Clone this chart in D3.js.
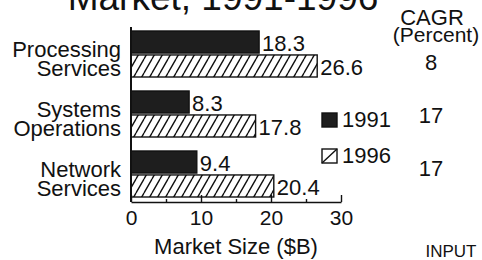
<!DOCTYPE html>
<meta charset="utf-8">
<head>
    <title>Market Size</title>
    <style>
        body { margin: 0; background: #fff; }
        svg text { font-family: "Liberation Sans", Arial, Helvetica, sans-serif; fill: #111; }
    </style>
</head>

<script src="https://d3js.org/d3.v7.min.js"></script>

<div id="dataVis"></div>

<script>

    // data
    var categories = ["Processing Services", "Systems Operations", "Network Services"];
    var years = ["1991", "1996"];
    var values1991 = [18.3, 8.3, 9.4];
    var values1996 = [26.6, 17.8, 20.4];
    var cagr = [8, 17, 17];
    var xTicks = [0, 10, 20, 30];
    var xMinorTicks = [5, 15, 25];

    var width = 482, height = 260;

    var svg = d3.select("#dataVis")
        .append("svg")
        .attr("width", width)
        .attr("height", height);

    // hatch for the 1996 bars
    var defs = svg.append("defs");
    defs.append("pattern")
        .attr("id", "hatch")
        .attr("patternUnits", "userSpaceOnUse")
        .attr("width", 8)
        .attr("height", 14)
        .append("path")
        .attr("d", "M-8,14L0,0M0,14L8,0M8,14L16,0")
        .attr("stroke", "#111")
        .attr("stroke-width", 1.4);

    // scales
    var x = d3.scaleLinear()
        .domain([0, 30])
        .range([131, 341]);

    var y = d3.scaleBand()
        .domain(categories)
        .range([24, 204])
        .paddingInner(0.2333)
        .paddingOuter(0.1167);

    var yInner = d3.scaleBand()
        .domain(years)
        .range([0, y.bandwidth()])
        .paddingInner(0.08);

    var rows = categories.map(function (c, i) {
        return { cat: c, vals: [
            { year: "1991", value: values1991[i] },
            { year: "1996", value: values1996[i] }
        ] };
    });

    // title (top is cut off in the original)
    svg.append("text")
        .attr("x", 223)
        .attr("y", 10)
        .attr("text-anchor", "middle")
        .style("font-size", "37px")
        .text("Market, 1991-1996");

    // bars
    var groups = svg.append("g")
        .selectAll("g")
        .data(rows)
        .enter()
        .append("g")
        .attr("transform", function (d) { return "translate(0," + y(d.cat) + ")"; });

    groups.selectAll("rect")
        .data(function (d) { return d.vals; })
        .enter()
        .append("rect")
        .attr("x", x(0))
        .attr("y", function (d) { return yInner(d.year); })
        .attr("width", function (d) { return x(d.value) - x(0); })
        .attr("height", yInner.bandwidth())
        .attr("fill", function (d) { return d.year === "1991" ? "#1e1e1e" : "url(#hatch)"; })
        .attr("stroke", "#111")
        .attr("stroke-width", 1.4);

    // value labels
    groups.selectAll("text.val")
        .data(function (d) { return d.vals; })
        .enter()
        .append("text")
        .attr("class", "val")
        .attr("x", function (d) { return x(d.value) + 3; })
        .attr("y", function (d) { return yInner(d.year) + yInner.bandwidth() - 2; })
        .style("font-size", "22px")
        .text(function (d) { return d.value.toFixed(1); });

    // category labels, two lines each
    var labels = groups.append("text")
        .attr("text-anchor", "end")
        .style("font-size", "22px");
    labels.append("tspan")
        .attr("x", 121)
        .attr("y", 26)
        .text(function (d) { return d.cat.split(" ")[0]; });
    labels.append("tspan")
        .attr("x", 121)
        .attr("y", 45)
        .text(function (d) { return d.cat.split(" ")[1]; });

    // left axis line
    svg.append("line")
        .attr("x1", x(0)).attr("x2", x(0))
        .attr("y1", 27).attr("y2", 202)
        .attr("stroke", "#111")
        .attr("stroke-width", 2);

    // bottom axis, ticks pointing up
    var xAxis = svg.append("g")
        .attr("transform", "translate(0,202)")
        .call(d3.axisBottom(x).tickValues(xTicks).tickSizeInner(-7).tickSizeOuter(0).tickPadding(8));
    xAxis.select(".domain").attr("stroke", "#111").attr("stroke-width", 1.6);
    xAxis.selectAll(".tick line").attr("stroke", "#111").attr("stroke-width", 1.4);
    xAxis.selectAll(".tick text")
        .attr("fill", "#111")
        .style("font-size", "21px")
        .style("font-family", "'Liberation Sans', Arial, sans-serif");

    var xMinor = svg.append("g")
        .attr("transform", "translate(0,202)")
        .call(d3.axisBottom(x).tickValues(xMinorTicks).tickSizeInner(-3).tickSizeOuter(0).tickFormat(""));
    xMinor.select(".domain").remove();
    xMinor.selectAll(".tick line").attr("stroke", "#111").attr("stroke-width", 1.4);

    svg.append("text")
        .attr("x", 236)
        .attr("y", 254)
        .attr("text-anchor", "middle")
        .style("font-size", "22px")
        .text("Market Size ($B)");

    // legend
    var legend = svg.append("g")
        .selectAll("g")
        .data(years)
        .enter()
        .append("g")
        .attr("transform", function (d, i) { return "translate(322," + (113 + i * 36) + ")"; });
    legend.append("rect")
        .attr("width", 15)
        .attr("height", 14)
        .attr("fill", function (d) { return d === "1991" ? "#1e1e1e" : "#fff"; })
        .attr("stroke", "#111")
        .attr("stroke-width", 1.4);
    legend.filter(function (d) { return d === "1996"; })
        .append("line")
        .attr("x1", 0).attr("y1", 14).attr("x2", 15).attr("y2", 0)
        .attr("stroke", "#111")
        .attr("stroke-width", 1.4);
    legend.append("text")
        .attr("x", 20)
        .attr("y", 14)
        .style("font-size", "22px")
        .text(function (d) { return d; });

    // CAGR column
    svg.append("text")
        .attr("x", 432).attr("y", 25)
        .attr("text-anchor", "middle")
        .style("font-size", "22px")
        .text("CAGR");
    svg.append("text")
        .attr("x", 436).attr("y", 42)
        .attr("text-anchor", "middle")
        .style("font-size", "21px")
        .text("(Percent)");

    var cagrY = d3.scalePoint()
        .domain(categories)
        .range([70, 176]);

    svg.append("g")
        .selectAll("text")
        .data(categories)
        .enter()
        .append("text")
        .attr("x", 431)
        .attr("y", function (d) { return cagrY(d); })
        .attr("text-anchor", "middle")
        .style("font-size", "22px")
        .text(function (d, i) { return cagr[i]; });

    svg.append("text")
        .attr("x", 451).attr("y", 257)
        .attr("text-anchor", "middle")
        .style("font-size", "17px")
        .text("INPUT");

</script>
